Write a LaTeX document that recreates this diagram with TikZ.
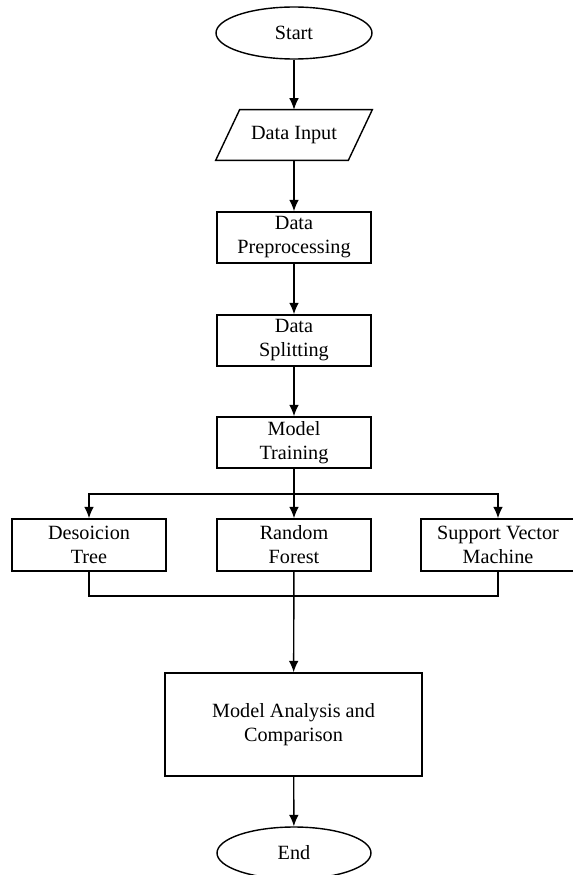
\documentclass[tikz,border=0pt]{standalone}
\usepackage{fontspec}
\setmainfont{Liberation Serif}
\usetikzlibrary{shapes.geometric,arrows.meta}
\tikzset{
	stepbox/.style = {draw, rectangle, line width=0.8pt, align=center, inner sep=0pt,
		minimum width=3.08cm, minimum height=1.02cm},
	termnode/.style = {draw, ellipse, line width=0.8pt, inner sep=0pt,
		minimum width=3.12cm, minimum height=1.04cm},
	ionode/.style = {rectangle, inner sep=0pt, minimum width=3.12cm, minimum height=1cm},
	flow/.style = {line width=0.8pt, -{Latex[length=6.5pt,width=5.5pt]}},
	plain/.style = {line width=0.8pt}
}

\begin{document}
\begin{tikzpicture}[x=0.02cm, y=-0.02cm, font=\fontsize{11.5}{13.7}\selectfont]

	\useasboundingbox (0,0) rectangle (572,875);

	% main column
	\node[termnode] (start) at (294,33) {Start};
	\node[ionode] (input) at (294,135) {Data Input};
	\draw[plain] (input.south west) -- ([xshift=0.48cm]input.north west)
		-- (input.north east) -- ([xshift=-0.48cm]input.south east) -- cycle;
	\node[stepbox] (prep) at (294,237.5) {Data\\Preprocessing};
	\node[stepbox] (split) at (294,340.5) {Data\\Splitting};
	\node[stepbox] (train) at (294,442.5) {Model\\Training};

	% the three models
	\node[stepbox, minimum height=1.04cm] (tree) at (89,545) {Desoicion\\Tree};
	\node[stepbox, minimum height=1.04cm] (forest) at (294,545) {Random\\Forest};
	\node[stepbox, minimum height=1.04cm] (svm) at (498,545) {Support Vector\\Machine};

	\node[stepbox, minimum width=5.14cm, minimum height=2.06cm] (analysis) at (293.5,724.5) {Model Analysis and\\Comparison};
	\node[termnode, minimum width=3.08cm] (end) at (294,853) {End};

	\coordinate (fork) at (294,494);
	\coordinate (join) at (294,596);

	\draw[flow] (start) -- (input);
	\draw[flow] (input) -- (prep);
	\draw[flow] (prep) -- (split);
	\draw[flow] (split) -- (train);
	\draw[flow] (train) -- (forest);
	\draw[flow] (fork) -| (tree.north);
	\draw[flow] (fork) -| (svm.north);

	\draw[plain] (tree.south) |- (join);
	\draw[plain] (svm.south) |- (join);
	\draw[flow] (forest) -- (analysis);
	\draw[flow] (analysis) -- (end);
%	\draw[flow] (join) -- (analysis);

\end{tikzpicture}
\end{document}
